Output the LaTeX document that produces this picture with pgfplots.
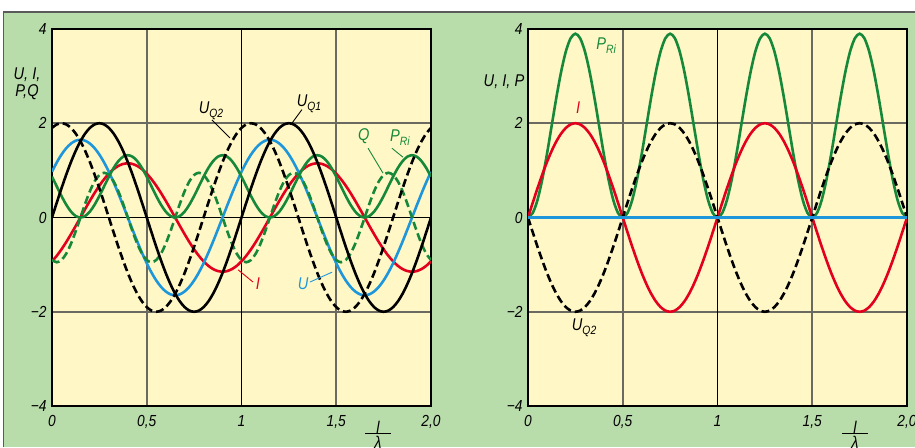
\documentclass[border=0pt]{standalone}
\usepackage{fontspec}
\setmainfont{Liberation Sans}[FakeStretch=0.86]
\usepackage{pgfplots}
\pgfplotsset{compat=1.18}
\usepackage{pgfplotstable}
\definecolor{bggreen}{HTML}{B9DCAB}
\definecolor{plotyellow}{HTML}{FFF8C6}
\definecolor{cblue}{HTML}{1E96DC}
\definecolor{cred}{HTML}{E3001F}
\definecolor{cgreen}{HTML}{16883A}
\definecolor{gridgray}{HTML}{6A6A60}
\definecolor{bordergray}{HTML}{5A5A5A}
\newcommand{\lab}{\fontsize{17}{18}\selectfont\itshape}
\newcommand{\sub}[1]{\raisebox{-0.45ex}{\fontsize{12}{12}\selectfont #1}}
\pgfplotsset{panel/.style={
  scale only axis, width=379pt, height=377pt,
  xmin=0, xmax=2, ymin=-4, ymax=4,
  axis background/.style={fill=plotyellow},
  axis line style={line width=1.8pt, black},
  xtick={0,0.5,1,1.5,2}, xticklabels={0,{0,5},1,{1,5},{2,0}},
  ytick={-4,-2,0,2,4}, yticklabels={−4,−2,0,2,4},
  major tick length=0pt,
  grid=major, major grid style={gridgray, line width=1.6pt},
  tick label style={font=\fontsize{16}{17}\selectfont\itshape},
  xticklabel style={yshift=-6pt},
  yticklabel style={xshift=-2pt},
  every axis plot/.append style={line width=2.6pt, smooth},
}}
\begin{document}
\pgfplotstableread{
x uqa uqb u i p q
0 0 1.902 0.970 -0.930 0.866 -0.902
0.025 0.313 1.975 1.167 -0.813 0.661 -0.949
0.05 0.618 2 1.335 -0.676 0.457 -0.902
0.075 0.908 1.975 1.470 -0.522 0.273 -0.768
0.1 1.176 1.902 1.569 -0.355 0.126 -0.558
0.125 1.414 1.782 1.630 -0.180 0.032 -0.293
0.15 1.618 1.618 1.650 0 0 0
0.175 1.782 1.414 1.630 0.180 0.032 0.293
0.2 1.902 1.176 1.569 0.355 0.126 0.558
0.225 1.975 0.908 1.470 0.522 0.273 0.768
0.25 2 0.618 1.335 0.676 0.457 0.902
0.275 1.975 0.313 1.167 0.813 0.661 0.949
0.3 1.902 0 0.970 0.930 0.866 0.902
0.325 1.782 -0.313 0.749 1.025 1.050 0.768
0.35 1.618 -0.618 0.510 1.094 1.196 0.558
0.375 1.414 -0.908 0.258 1.136 1.290 0.293
0.4 1.176 -1.176 0 1.150 1.322 0
0.425 0.908 -1.414 -0.258 1.136 1.290 -0.293
0.45 0.618 -1.618 -0.510 1.094 1.196 -0.558
0.475 0.313 -1.782 -0.749 1.025 1.050 -0.768
0.5 0 -1.902 -0.970 0.930 0.866 -0.902
0.525 -0.313 -1.975 -1.167 0.813 0.661 -0.949
0.55 -0.618 -2 -1.335 0.676 0.457 -0.902
0.575 -0.908 -1.975 -1.470 0.522 0.273 -0.768
0.6 -1.176 -1.902 -1.569 0.355 0.126 -0.558
0.625 -1.414 -1.782 -1.630 0.180 0.032 -0.293
0.65 -1.618 -1.618 -1.650 0 0 0
0.675 -1.782 -1.414 -1.630 -0.180 0.032 0.293
0.7 -1.902 -1.176 -1.569 -0.355 0.126 0.558
0.725 -1.975 -0.908 -1.470 -0.522 0.273 0.768
0.75 -2 -0.618 -1.335 -0.676 0.457 0.902
0.775 -1.975 -0.313 -1.167 -0.813 0.661 0.949
0.8 -1.902 0 -0.970 -0.930 0.866 0.902
0.825 -1.782 0.313 -0.749 -1.025 1.050 0.768
0.85 -1.618 0.618 -0.510 -1.094 1.196 0.558
0.875 -1.414 0.908 -0.258 -1.136 1.290 0.293
0.9 -1.176 1.176 0 -1.150 1.322 0
0.925 -0.908 1.414 0.258 -1.136 1.290 -0.293
0.95 -0.618 1.618 0.510 -1.094 1.196 -0.558
0.975 -0.313 1.782 0.749 -1.025 1.050 -0.768
1 0 1.902 0.970 -0.930 0.866 -0.902
1.025 0.313 1.975 1.167 -0.813 0.661 -0.949
1.05 0.618 2 1.335 -0.676 0.457 -0.902
1.075 0.908 1.975 1.470 -0.522 0.273 -0.768
1.1 1.176 1.902 1.569 -0.355 0.126 -0.558
1.125 1.414 1.782 1.630 -0.180 0.032 -0.293
1.15 1.618 1.618 1.650 0 0 0
1.175 1.782 1.414 1.630 0.180 0.032 0.293
1.2 1.902 1.176 1.569 0.355 0.126 0.558
1.225 1.975 0.908 1.470 0.522 0.273 0.768
1.25 2 0.618 1.335 0.676 0.457 0.902
1.275 1.975 0.313 1.167 0.813 0.661 0.949
1.3 1.902 0 0.970 0.930 0.866 0.902
1.325 1.782 -0.313 0.749 1.025 1.050 0.768
1.35 1.618 -0.618 0.510 1.094 1.196 0.558
1.375 1.414 -0.908 0.258 1.136 1.290 0.293
1.4 1.176 -1.176 0 1.150 1.322 0
1.425 0.908 -1.414 -0.258 1.136 1.290 -0.293
1.45 0.618 -1.618 -0.510 1.094 1.196 -0.558
1.475 0.313 -1.782 -0.749 1.025 1.050 -0.768
1.5 0 -1.902 -0.970 0.930 0.866 -0.902
1.525 -0.313 -1.975 -1.167 0.813 0.661 -0.949
1.55 -0.618 -2 -1.335 0.676 0.457 -0.902
1.575 -0.908 -1.975 -1.470 0.522 0.273 -0.768
1.6 -1.176 -1.902 -1.569 0.355 0.126 -0.558
1.625 -1.414 -1.782 -1.630 0.180 0.032 -0.293
1.65 -1.618 -1.618 -1.650 0 0 0
1.675 -1.782 -1.414 -1.630 -0.180 0.032 0.293
1.7 -1.902 -1.176 -1.569 -0.355 0.126 0.558
1.725 -1.975 -0.908 -1.470 -0.522 0.273 0.768
1.75 -2 -0.618 -1.335 -0.676 0.457 0.902
1.775 -1.975 -0.313 -1.167 -0.813 0.661 0.949
1.8 -1.902 0 -0.970 -0.930 0.866 0.902
1.825 -1.782 0.313 -0.749 -1.025 1.050 0.768
1.85 -1.618 0.618 -0.510 -1.094 1.196 0.558
1.875 -1.414 0.908 -0.258 -1.136 1.290 0.293
1.9 -1.176 1.176 0 -1.150 1.322 0
1.925 -0.908 1.414 0.258 -1.136 1.290 -0.293
1.95 -0.618 1.618 0.510 -1.094 1.196 -0.558
1.975 -0.313 1.782 0.749 -1.025 1.050 -0.768
2 0 1.902 0.970 -0.930 0.866 -0.902
}\lefttab
\pgfplotstableread{
x ir uq pr
0 0 0 0
0.025 0.313 -0.313 0.096
0.05 0.618 -0.618 0.372
0.075 0.908 -0.908 0.804
0.1 1.176 -1.176 1.347
0.125 1.414 -1.414 1.950
0.15 1.618 -1.618 2.553
0.175 1.782 -1.782 3.096
0.2 1.902 -1.902 3.528
0.225 1.975 -1.975 3.804
0.25 2 -2 3.900
0.275 1.975 -1.975 3.804
0.3 1.902 -1.902 3.528
0.325 1.782 -1.782 3.096
0.35 1.618 -1.618 2.553
0.375 1.414 -1.414 1.950
0.4 1.176 -1.176 1.347
0.425 0.908 -0.908 0.804
0.45 0.618 -0.618 0.372
0.475 0.313 -0.313 0.096
0.5 0 0 0
0.525 -0.313 0.313 0.096
0.55 -0.618 0.618 0.372
0.575 -0.908 0.908 0.804
0.6 -1.176 1.176 1.347
0.625 -1.414 1.414 1.950
0.65 -1.618 1.618 2.553
0.675 -1.782 1.782 3.096
0.7 -1.902 1.902 3.528
0.725 -1.975 1.975 3.804
0.75 -2 2 3.900
0.775 -1.975 1.975 3.804
0.8 -1.902 1.902 3.528
0.825 -1.782 1.782 3.096
0.85 -1.618 1.618 2.553
0.875 -1.414 1.414 1.950
0.9 -1.176 1.176 1.347
0.925 -0.908 0.908 0.804
0.95 -0.618 0.618 0.372
0.975 -0.313 0.313 0.096
1 0 0 0
1.025 0.313 -0.313 0.096
1.05 0.618 -0.618 0.372
1.075 0.908 -0.908 0.804
1.1 1.176 -1.176 1.347
1.125 1.414 -1.414 1.950
1.15 1.618 -1.618 2.553
1.175 1.782 -1.782 3.096
1.2 1.902 -1.902 3.528
1.225 1.975 -1.975 3.804
1.25 2 -2 3.900
1.275 1.975 -1.975 3.804
1.3 1.902 -1.902 3.528
1.325 1.782 -1.782 3.096
1.35 1.618 -1.618 2.553
1.375 1.414 -1.414 1.950
1.4 1.176 -1.176 1.347
1.425 0.908 -0.908 0.804
1.45 0.618 -0.618 0.372
1.475 0.313 -0.313 0.096
1.5 0 0 0
1.525 -0.313 0.313 0.096
1.55 -0.618 0.618 0.372
1.575 -0.908 0.908 0.804
1.6 -1.176 1.176 1.347
1.625 -1.414 1.414 1.950
1.65 -1.618 1.618 2.553
1.675 -1.782 1.782 3.096
1.7 -1.902 1.902 3.528
1.725 -1.975 1.975 3.804
1.75 -2 2 3.900
1.775 -1.975 1.975 3.804
1.8 -1.902 1.902 3.528
1.825 -1.782 1.782 3.096
1.85 -1.618 1.618 2.553
1.875 -1.414 1.414 1.950
1.9 -1.176 1.176 1.347
1.925 -0.908 0.908 0.804
1.95 -0.618 0.618 0.372
1.975 -0.313 0.313 0.096
2 0 0 0
}\righttab
\begin{tikzpicture}
\path[use as bounding box] (0pt,0pt) rectangle (915pt,447pt);
\clip (0pt,0pt) rectangle (915pt,447pt);
\fill[white] (0pt,0pt) rectangle (915pt,447pt);
\fill[bggreen] (3.5pt,0pt) rectangle (915pt,435pt);
\draw[bordergray, line width=1.2pt] (3.5pt,0pt) -- (3.5pt,435pt) -- (915pt,435pt);

% left panel
\begin{axis}[panel, at={(52pt,41pt)}, anchor=south west]
\draw[black, line width=0.8pt] (axis cs:1,-4) -- (axis cs:1,4);
\draw[black, line width=0.8pt] (axis cs:0,0) -- (axis cs:2,0);
\addplot[cred] table[x=x, y=i] {\lefttab};
\addplot[cblue] table[x=x, y=u] {\lefttab};
\addplot[cgreen] table[x=x, y=p] {\lefttab};
\addplot[cgreen, dash pattern=on 8pt off 4pt] table[x=x, y=q] {\lefttab};
\addplot[black] table[x=x, y=uqa] {\lefttab};
\addplot[black, dash pattern=on 8pt off 4pt] table[x=x, y=uqb] {\lefttab};
\node[font=\lab, text=black] at (axis cs:0.839,2.26) {U\sub{Q2}};
\draw[black, line width=0.9pt] (axis cs:0.844,2.07) -- (axis cs:0.939,1.69);
\node[font=\lab, text=black] at (axis cs:1.356,2.41) {U\sub{Q1}};
\draw[black, line width=0.9pt] (axis cs:1.319,2.29) -- (axis cs:1.266,2.00);
\node[font=\lab, text=cgreen] at (axis cs:1.646,1.73) {Q};
\draw[cgreen, line width=0.9pt] (axis cs:1.668,1.47) -- (axis cs:1.747,0.94);
\node[font=\lab, text=cgreen] at (axis cs:1.836,1.69) {P\sub{Ri}};
\draw[cgreen, line width=0.9pt] (axis cs:1.794,1.47) -- (axis cs:1.852,1.28);
\node[font=\lab, text=cred] at (axis cs:1.087,-1.41) {I};
\draw[cred, line width=0.9pt] (axis cs:0.982,-1.11) -- (axis cs:1.061,-1.37);
\node[font=\lab, text=cblue] at (axis cs:1.325,-1.41) {U};
\draw[cblue, line width=0.9pt] (axis cs:1.361,-1.37) -- (axis cs:1.478,-1.16);
\end{axis}

% right panel
\begin{axis}[panel, at={(528pt,41pt)}, anchor=south west]
\draw[black, line width=0.8pt] (axis cs:1,-4) -- (axis cs:1,4);
\addplot[cgreen] table[x=x, y=pr] {\righttab};
\addplot[cred] table[x=x, y=ir] {\righttab};
\addplot[black, dash pattern=on 8pt off 4pt] table[x=x, y=uq] {\righttab};
\addplot[cblue, sharp plot] coordinates {(0,0) (2,0)};
\node[font=\lab, text=cgreen] at (axis cs:0.412,3.64) {P\sub{Ri}};
\node[font=\lab, text=cred] at (axis cs:0.264,2.34) {I};
\node[font=\lab, text=black] at (axis cs:0.296,-2.34) {U\sub{Q2}};
\end{axis}

% axis labels
\node[font=\lab, align=center, inner sep=0pt] at (27pt,363pt) {U, I,\\[-1pt] P,Q};
\node[font=\lab, inner sep=0pt] at (504pt,365pt) {U, I, P};
\node[font=\lab, inner sep=0pt] at (378pt,20pt) {l};
\draw[black, line width=0.9pt] (365pt,14pt) -- (391pt,14pt);
\node[font=\lab, inner sep=0pt, anchor=north] at (378pt,11pt) {λ};
\node[font=\lab, inner sep=0pt] at (855pt,20pt) {l};
\draw[black, line width=0.9pt] (842pt,14pt) -- (868pt,14pt);
\node[font=\lab, inner sep=0pt, anchor=north] at (855pt,11pt) {λ};
\end{tikzpicture}
\end{document}
